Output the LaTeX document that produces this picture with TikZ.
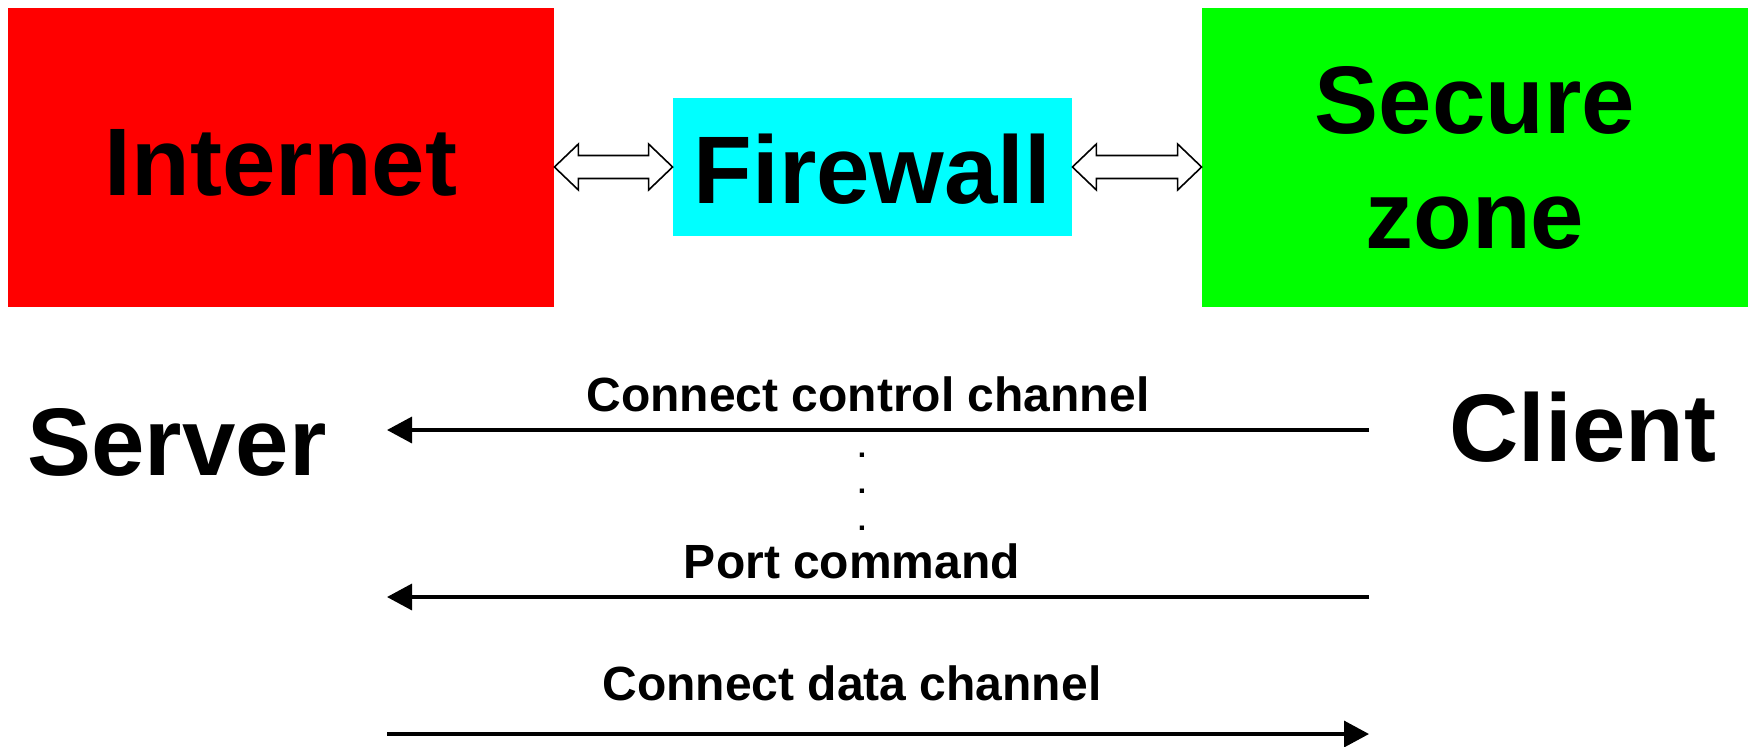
\documentclass[tikz,border=0pt]{standalone}
\usepackage{fontspec}
\setmainfont{Liberation Sans}
\usetikzlibrary{arrows.meta,calc}
\definecolor{inetred}{RGB}{255,0,0}
\definecolor{fwcyan}{RGB}{0,255,255}
\definecolor{secgreen}{RGB}{0,255,0}
\begin{document}
\begin{tikzpicture}[x=0.5pt,y=-0.5pt,
  bigtxt/.style={font=\bfseries\fontsize{48}{57.5}\selectfont,inner sep=0pt,anchor=base},
  lbltxt/.style={font=\bfseries\fontsize{24}{28}\selectfont,inner sep=0pt,anchor=base},
  dottxt/.style={font=\bfseries\fontsize{15}{18}\selectfont,inner sep=0pt,anchor=center},
  zone/.style={draw=none,inner sep=0pt},
  dblarrow/.style={draw=black,fill=white,line width=0.8pt,line join=miter},
  msg/.style={line width=1.7pt,-{Triangle[length=12.5pt,width=13pt]}}]
\useasboundingbox (0,0) rectangle (1751,746);
% boxes
\fill[inetred] (8,8) rectangle (554,307);
\node[zone,minimum width=273pt,minimum height=149.5pt] (inet) at (281,157.5) {};
\fill[fwcyan] (673,98) rectangle (1072,236);
\node[zone,minimum width=199.5pt,minimum height=69pt] (fw) at (872.5,167) {};
\fill[secgreen] (1202,8) rectangle (1748,307);
\node[zone,minimum width=273pt,minimum height=149.5pt] (sec) at (1475,157.5) {};
% texts
\node[bigtxt] (inettxt) at (281,195) {Internet};
\node[bigtxt] (fwtxt) at (872.5,203) {Firewall};
\node[font=\bfseries\fontsize{48}{57.5}\selectfont,inner sep=0pt,align=center] (sectxt) at (1475,157.5) {Secure\\zone};
% double arrows
\coordinate (a1L) at (inet.east |- fw.west);
\coordinate (a1R) at (fw.west);
\coordinate (a2L) at (fw.east);
\coordinate (a2R) at (sec.west |- fw.east);
\foreach \L/\R in {a1L/a1R,a2L/a2R}{
  \draw[dblarrow] (\L) -- ($(\L)+(24,-23)$) -- ($(\L)+(24,-11.5)$) -- ($(\R)+(-24,-11.5)$)
    -- ($(\R)+(-24,-23)$) -- (\R) -- ($(\R)+(-24,23)$) -- ($(\R)+(-24,11.5)$)
    -- ($(\L)+(24,11.5)$) -- ($(\L)+(24,23)$) -- cycle;
}
% server / client
\node[bigtxt] (server) at (177,475) {Server};
\node[bigtxt] (client) at (1583,461) {Client};
% message coordinates
\coordinate (m1s) at (387,430);
\coordinate (m1c) at (1369,430);
\coordinate (m2s) at (387,597);
\coordinate (m2c) at (1369,597);
\coordinate (m3s) at (387,734);
\coordinate (m3c) at (1369,734);
\draw[msg] (m1c) -- (m1s);
\draw[msg] (m2c) -- (m2s);
\draw[msg] (m3s) -- (m3c);
\node[lbltxt] (l1) at (868,411) {Connect control channel};
\node[lbltxt] (l2) at (852,578) {Port command};
\node[lbltxt] (l3) at (852,700) {Connect data channel};
\node[dottxt] (d1) at (862,455) {.};
\node[dottxt] (d2) at (862,491) {.};
\node[dottxt] (d3) at (862,528) {.};
\end{tikzpicture}
\end{document}
